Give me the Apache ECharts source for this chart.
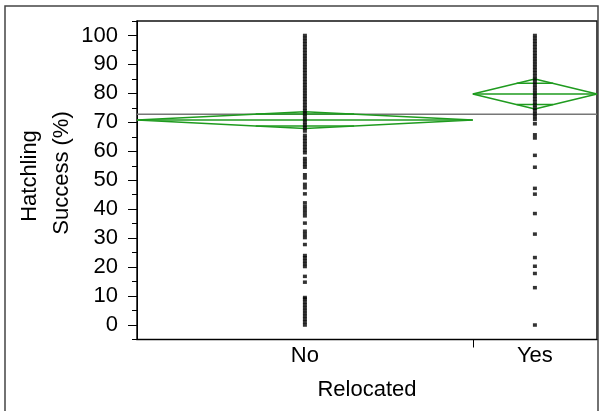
<!DOCTYPE html>
<html>
<head>
<meta charset="utf-8">
<script src="https://cdn.jsdelivr.net/npm/echarts@6/dist/echarts.min.js"></script>
<style>html,body{margin:0;padding:0;background:#fff}#c{width:600px;height:411px}</style>
</head>
<body>
<div id="c"></div>
<script>
// ---- data ----
var categories = ['No', 'Yes'];
var groupShare = [0.73, 0.27];           // relative group widths (sample size share)
var noValues = [100, 99, 98, 97, 96, 95, 94, 93, 92, 91, 90, 89, 88, 87, 86, 85, 84, 83, 82, 81, 80,
  79, 78, 77, 76, 75, 74, 73, 72, 71, 70, 69, 68, 67,
  65.5, 64.5, 63.5, 62.5, 61.5, 60.5, 59.5,
  57.5, 56.5, 55.5, 54.5, 51.9, 50.8, 48.6, 47.4, 45.3,
  42.2, 41, 39.9, 38.8, 37.7, 35.2, 32.4, 31.3, 30.2, 27.8,
  24, 23.2, 22.2, 21.2, 20.2, 16.8, 14.8,
  9.5, 9, 8, 7, 6, 5, 4, 3, 2, 1, 0];
var yesValues = [100, 99, 98, 97, 96, 95, 94, 93, 92, 91, 90, 89, 88, 87, 86, 85, 84, 83, 82, 81, 80,
  79, 78, 77, 76, 75, 74, 73, 72, 71, 69.5, 65.7, 64.6, 58.6, 54.5, 47.2, 45.2, 38.5, 31.4,
  23.3, 20.3, 17.8, 12.9, 0];
var groupMeans = [70.8, 79.8];
var groupCIHalf = [2.9, 5.2];            // 95% CI half-width (diamond half-height)
var grandMean = 72.8;
var yMajorTicks = [0, 10, 20, 30, 40, 50, 60, 70, 80, 90, 100];
var yMinorTicks = [-5, 5, 15, 25, 35, 45, 55, 65, 75, 85, 95, 105];

// ---- build ----
var FONT = 'Liberation Sans, Arial, sans-serif';
var FS = 22;
var GREEN = '#1f9b1f';
var bounds = [];
var acc = 0;
for (var i = 0; i < groupShare.length; i++) { bounds.push([acc, acc + groupShare[i]]); acc += groupShare[i]; }
var centers = bounds.map(function (b) { return (b[0] + b[1]) / 2; });
var catBoundaries = bounds.slice(0, -1).map(function (b) { return b[1]; });

var series = [];
function lineSeries(data, color, width, z) {
  return { type: 'line', data: data, symbol: 'none', silent: true, animation: false,
    lineStyle: { color: color, width: width }, z: z, clip: false };
}
series.push(lineSeries([[0, grandMean], [acc, grandMean]], '#777777', 1.5, 2));
for (var g = 0; g < categories.length; g++) {
  var x0 = bounds[g][0], x1 = bounds[g][1], xc = centers[g];
  var m = groupMeans[g], h = groupCIHalf[g];
  series.push(lineSeries([[x0, m], [xc, m + h], [x1, m], [xc, m - h], [x0, m]], GREEN, 1.5, 3));
  series.push(lineSeries([[x0, m], [x1, m]], GREEN, 1.5, 3));
  var ov = h / Math.SQRT2;
  var hw = (x1 - x0) / 2 * (1 - 1 / Math.SQRT2);
  series.push(lineSeries([[xc - hw, m + ov], [xc + hw, m + ov]], GREEN, 1.5, 3));
  series.push(lineSeries([[xc - hw, m - ov], [xc + hw, m - ov]], GREEN, 1.5, 3));
}
[noValues, yesValues].forEach(function (vals, g) {
  series.push({ type: 'scatter', symbol: 'rect', symbolSize: [4, 3.5], animation: false, silent: true,
    itemStyle: { color: '#000' }, z: 5,
    data: vals.map(function (v) { return [centers[g], v]; }) });
});

var chart = echarts.init(document.getElementById('c'), null, { renderer: 'canvas' });
chart.setOption({
  backgroundColor: '#fff',
  animation: false,
  grid: { left: 137, right: 3, top: 21, bottom: 71.5, show: true, borderColor: '#111', borderWidth: 1.5, backgroundColor: 'transparent' },
  xAxis: {
    type: 'value', min: 0, max: acc,
    name: 'Relocated', nameLocation: 'middle', nameGap: 39,
    nameTextStyle: { fontFamily: FONT, fontSize: FS, color: '#000' },
    axisLine: { show: true, onZero: false, lineStyle: { color: '#000', width: 1 } },
    axisTick: { show: true, customValues: catBoundaries, length: 8, lineStyle: { color: '#000', width: 1 } },
    axisLabel: { show: true, customValues: centers, margin: 5, fontFamily: FONT, fontSize: FS, color: '#000',
      formatter: function (v) {
        var best = 0;
        for (var k = 1; k < centers.length; k++) if (Math.abs(centers[k] - v) < Math.abs(centers[best] - v)) best = k;
        return categories[best];
      } },
    splitLine: { show: false }
  },
  yAxis: [{
    type: 'value', min: -5, max: 105, position: 'left',
    axisLine: { show: true, onZero: false, lineStyle: { color: '#000', width: 1 } },
    axisTick: { show: true, customValues: yMajorTicks, length: 9, lineStyle: { color: '#000', width: 1 } },
    axisLabel: { show: true, customValues: yMajorTicks, margin: 19, fontFamily: FONT, fontSize: FS, color: '#000' },
    splitLine: { show: false }
  }, {
    type: 'value', min: -5, max: 105, position: 'left', offset: 0,
    axisLine: { show: false },
    axisTick: { show: true, customValues: yMinorTicks, length: 5, lineStyle: { color: '#000', width: 1 } },
    axisLabel: { show: false },
    splitLine: { show: false }
  }],
  graphic: [
    { type: 'rect', silent: true, shape: { x: 5, y: 6, width: 593, height: 430 },
      style: { fill: 'none', stroke: '#444', lineWidth: 1.5 }, z: 0 },
    { type: 'text', silent: true, x: 30, y: 176, rotation: Math.PI / 2,
      style: { text: 'Hatchling', font: FS + 'px ' + FONT, fill: '#000', textAlign: 'center', textVerticalAlign: 'middle' } },
    { type: 'text', silent: true, x: 62, y: 173, rotation: Math.PI / 2,
      style: { text: 'Success (%)', font: FS + 'px ' + FONT, fill: '#000', textAlign: 'center', textVerticalAlign: 'middle' } }
  ],
  series: series
});
</script>
</body>
</html>
